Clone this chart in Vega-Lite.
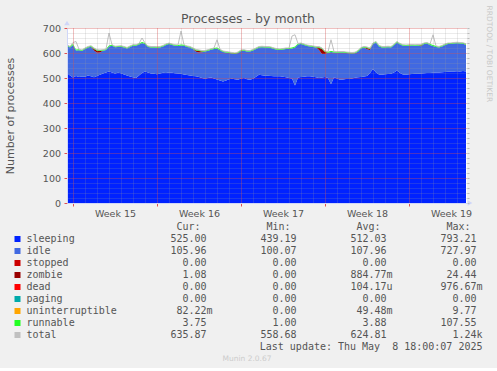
{
  "$schema": "https://vega.github.io/schema/vega-lite/v6.json",
  "background": "#f0f0f0",
  "padding": {"left": 4, "top": 5, "right": 5, "bottom": 5},
  "bounds": "flush",
  "spacing": 18,
  "datasets": {
    "series": [
      {"name": "sleeping", "rank": 1},
      {"name": "idle", "rank": 2},
      {"name": "stopped", "rank": 3},
      {"name": "zombie", "rank": 4},
      {"name": "dead", "rank": 5},
      {"name": "paging", "rank": 6},
      {"name": "uninterruptible", "rank": 7},
      {"name": "runnable", "rank": 8},
      {"name": "total", "rank": 9}
    ],
    "columns": [
      {"stat": "Cur", "header": "Cur:", "col": 1},
      {"stat": "Min", "header": "Min:", "col": 2},
      {"stat": "Avg", "header": "Avg:", "col": 3},
      {"stat": "Max", "header": "Max:", "col": 4}
    ],
    "stats": [
      {"series": "sleeping", "stat": "Cur", "value": "525.00"},
      {"series": "sleeping", "stat": "Min", "value": "439.19"},
      {"series": "sleeping", "stat": "Avg", "value": "512.03"},
      {"series": "sleeping", "stat": "Max", "value": "793.21"},
      {"series": "idle", "stat": "Cur", "value": "105.96"},
      {"series": "idle", "stat": "Min", "value": "100.07"},
      {"series": "idle", "stat": "Avg", "value": "107.96"},
      {"series": "idle", "stat": "Max", "value": "727.97"},
      {"series": "stopped", "stat": "Cur", "value": "0.00"},
      {"series": "stopped", "stat": "Min", "value": "0.00"},
      {"series": "stopped", "stat": "Avg", "value": "0.00"},
      {"series": "stopped", "stat": "Max", "value": "0.00"},
      {"series": "zombie", "stat": "Cur", "value": "1.08"},
      {"series": "zombie", "stat": "Min", "value": "0.00"},
      {"series": "zombie", "stat": "Avg", "value": "884.77", "unit": "m"},
      {"series": "zombie", "stat": "Max", "value": "24.44"},
      {"series": "dead", "stat": "Cur", "value": "0.00"},
      {"series": "dead", "stat": "Min", "value": "0.00"},
      {"series": "dead", "stat": "Avg", "value": "104.17", "unit": "u"},
      {"series": "dead", "stat": "Max", "value": "976.67", "unit": "m"},
      {"series": "paging", "stat": "Cur", "value": "0.00"},
      {"series": "paging", "stat": "Min", "value": "0.00"},
      {"series": "paging", "stat": "Avg", "value": "0.00"},
      {"series": "paging", "stat": "Max", "value": "0.00"},
      {"series": "uninterruptible", "stat": "Cur", "value": "82.22", "unit": "m"},
      {"series": "uninterruptible", "stat": "Min", "value": "0.00"},
      {"series": "uninterruptible", "stat": "Avg", "value": "49.48", "unit": "m"},
      {"series": "uninterruptible", "stat": "Max", "value": "9.77"},
      {"series": "runnable", "stat": "Cur", "value": "3.75"},
      {"series": "runnable", "stat": "Min", "value": "1.00"},
      {"series": "runnable", "stat": "Avg", "value": "3.88"},
      {"series": "runnable", "stat": "Max", "value": "107.55"},
      {"series": "total", "stat": "Cur", "value": "635.87"},
      {"series": "total", "stat": "Min", "value": "558.68"},
      {"series": "total", "stat": "Avg", "value": "624.81"},
      {"series": "total", "stat": "Max", "value": "1.24", "unit": "k"}
    ],
    "processes": [
      {"time": "2025-04-05 12", "sleeping": 520, "idle": 109, "zombie": 0, "runnable": 4, "total": 633},
      {"time": "2025-04-05 18", "sleeping": 510, "idle": 112, "zombie": 0, "runnable": 4, "total": 626},
      {"time": "2025-04-06 00", "sleeping": 502, "idle": 130, "zombie": 0, "runnable": 4, "total": 642},
      {"time": "2025-04-06 06", "sleeping": 508, "idle": 102, "zombie": 0, "runnable": 4, "total": 646},
      {"time": "2025-04-06 12", "sleeping": 504, "idle": 107, "zombie": 0, "runnable": 4, "total": 615},
      {"time": "2025-04-06 18", "sleeping": 506, "idle": 102, "zombie": 0, "runnable": 4, "total": 612},
      {"time": "2025-04-07 00", "sleeping": 505, "idle": 111, "zombie": 0, "runnable": 4, "total": 620},
      {"time": "2025-04-07 06", "sleeping": 510, "idle": 112, "zombie": 0, "runnable": 4, "total": 626},
      {"time": "2025-04-07 12", "sleeping": 507, "idle": 118, "zombie": 0, "runnable": 4, "total": 629},
      {"time": "2025-04-07 18", "sleeping": 503, "idle": 107, "zombie": 6, "runnable": 4, "total": 620},
      {"time": "2025-04-08 00", "sleeping": 508, "idle": 93, "zombie": 8, "runnable": 4, "total": 613},
      {"time": "2025-04-08 06", "sleeping": 513, "idle": 89, "zombie": 6, "runnable": 4, "total": 612},
      {"time": "2025-04-08 12", "sleeping": 518, "idle": 91, "zombie": 0, "runnable": 4, "total": 613},
      {"time": "2025-04-08 18", "sleeping": 522, "idle": 90, "zombie": 0, "runnable": 4, "total": 616},
      {"time": "2025-04-09 00", "sleeping": 526, "idle": 100, "zombie": 0, "runnable": 4, "total": 680},
      {"time": "2025-04-09 06", "sleeping": 522, "idle": 107, "zombie": 0, "runnable": 4, "total": 633},
      {"time": "2025-04-09 12", "sleeping": 518, "idle": 105, "zombie": 0, "runnable": 4, "total": 627},
      {"time": "2025-04-09 18", "sleeping": 521, "idle": 103, "zombie": 0, "runnable": 4, "total": 628},
      {"time": "2025-04-10 00", "sleeping": 519, "idle": 106, "zombie": 0, "runnable": 4, "total": 629},
      {"time": "2025-04-10 06", "sleeping": 514, "idle": 108, "zombie": 0, "runnable": 4, "total": 626},
      {"time": "2025-04-10 12", "sleeping": 510, "idle": 108, "zombie": 0, "runnable": 4, "total": 622},
      {"time": "2025-04-10 18", "sleeping": 506, "idle": 118, "zombie": 0, "runnable": 4, "total": 628},
      {"time": "2025-04-11 00", "sleeping": 503, "idle": 126, "zombie": 0, "runnable": 4, "total": 633},
      {"time": "2025-04-11 06", "sleeping": 500, "idle": 129, "zombie": 0, "runnable": 4, "total": 633},
      {"time": "2025-04-11 12", "sleeping": 510, "idle": 124, "zombie": 0, "runnable": 4, "total": 638},
      {"time": "2025-04-11 18", "sleeping": 520, "idle": 120, "zombie": 0, "runnable": 4, "total": 660},
      {"time": "2025-04-12 00", "sleeping": 526, "idle": 110, "zombie": 0, "runnable": 4, "total": 640},
      {"time": "2025-04-12 06", "sleeping": 522, "idle": 102, "zombie": 0, "runnable": 4, "total": 628},
      {"time": "2025-04-12 12", "sleeping": 518, "idle": 104, "zombie": 0, "runnable": 4, "total": 626},
      {"time": "2025-04-12 18", "sleeping": 517, "idle": 105, "zombie": 0, "runnable": 4, "total": 626},
      {"time": "2025-04-13 00", "sleeping": 515, "idle": 106, "zombie": 0, "runnable": 4, "total": 625},
      {"time": "2025-04-13 06", "sleeping": 518, "idle": 104, "zombie": 0, "runnable": 4, "total": 626},
      {"time": "2025-04-13 12", "sleeping": 521, "idle": 105, "zombie": 0, "runnable": 4, "total": 630},
      {"time": "2025-04-13 18", "sleeping": 520, "idle": 112, "zombie": 0, "runnable": 4, "total": 636},
      {"time": "2025-04-14 00", "sleeping": 522, "idle": 114, "zombie": 0, "runnable": 4, "total": 640},
      {"time": "2025-04-14 06", "sleeping": 521, "idle": 111, "zombie": 0, "runnable": 4, "total": 636},
      {"time": "2025-04-14 12", "sleeping": 519, "idle": 110, "zombie": 0, "runnable": 4, "total": 633},
      {"time": "2025-04-14 18", "sleeping": 518, "idle": 110, "zombie": 0, "runnable": 4, "total": 632},
      {"time": "2025-04-15 00", "sleeping": 517, "idle": 113, "zombie": 0, "runnable": 4, "total": 688},
      {"time": "2025-04-15 06", "sleeping": 514, "idle": 115, "zombie": 0, "runnable": 4, "total": 633},
      {"time": "2025-04-15 12", "sleeping": 512, "idle": 112, "zombie": 0, "runnable": 4, "total": 628},
      {"time": "2025-04-15 18", "sleeping": 510, "idle": 112, "zombie": 0, "runnable": 4, "total": 626},
      {"time": "2025-04-16 00", "sleeping": 508, "idle": 108, "zombie": 0, "runnable": 4, "total": 620},
      {"time": "2025-04-16 06", "sleeping": 507, "idle": 98, "zombie": 5, "runnable": 4, "total": 614},
      {"time": "2025-04-16 12", "sleeping": 504, "idle": 98, "zombie": 6, "runnable": 4, "total": 612},
      {"time": "2025-04-16 18", "sleeping": 500, "idle": 103, "zombie": 3, "runnable": 4, "total": 610},
      {"time": "2025-04-17 00", "sleeping": 497, "idle": 109, "zombie": 0, "runnable": 4, "total": 610},
      {"time": "2025-04-17 06", "sleeping": 500, "idle": 109, "zombie": 0, "runnable": 4, "total": 613},
      {"time": "2025-04-17 12", "sleeping": 502, "idle": 111, "zombie": 0, "runnable": 4, "total": 617},
      {"time": "2025-04-17 18", "sleeping": 498, "idle": 118, "zombie": 0, "runnable": 4, "total": 620},
      {"time": "2025-04-18 00", "sleeping": 494, "idle": 124, "zombie": 0, "runnable": 4, "total": 653},
      {"time": "2025-04-18 06", "sleeping": 490, "idle": 121, "zombie": 0, "runnable": 4, "total": 615},
      {"time": "2025-04-18 12", "sleeping": 486, "idle": 118, "zombie": 0, "runnable": 4, "total": 608},
      {"time": "2025-04-18 18", "sleeping": 490, "idle": 112, "zombie": 0, "runnable": 4, "total": 606},
      {"time": "2025-04-19 00", "sleeping": 495, "idle": 105, "zombie": 0, "runnable": 4, "total": 604},
      {"time": "2025-04-19 06", "sleeping": 497, "idle": 101, "zombie": 0, "runnable": 4, "total": 602},
      {"time": "2025-04-19 12", "sleeping": 495, "idle": 101, "zombie": 0, "runnable": 4, "total": 600},
      {"time": "2025-04-19 18", "sleeping": 493, "idle": 107, "zombie": 0, "runnable": 4, "total": 604},
      {"time": "2025-04-20 00", "sleeping": 498, "idle": 110, "zombie": 0, "runnable": 4, "total": 612},
      {"time": "2025-04-20 06", "sleeping": 500, "idle": 109, "zombie": 0, "runnable": 4, "total": 613},
      {"time": "2025-04-20 12", "sleeping": 495, "idle": 111, "zombie": 0, "runnable": 4, "total": 610},
      {"time": "2025-04-20 18", "sleeping": 493, "idle": 113, "zombie": 0, "runnable": 4, "total": 610},
      {"time": "2025-04-21 00", "sleeping": 497, "idle": 113, "zombie": 0, "runnable": 4, "total": 614},
      {"time": "2025-04-21 06", "sleeping": 505, "idle": 111, "zombie": 0, "runnable": 4, "total": 620},
      {"time": "2025-04-21 12", "sleeping": 513, "idle": 109, "zombie": 0, "runnable": 4, "total": 626},
      {"time": "2025-04-21 18", "sleeping": 511, "idle": 112, "zombie": 0, "runnable": 4, "total": 627},
      {"time": "2025-04-22 00", "sleeping": 509, "idle": 113, "zombie": 0, "runnable": 4, "total": 626},
      {"time": "2025-04-22 06", "sleeping": 509, "idle": 113, "zombie": 0, "runnable": 4, "total": 626},
      {"time": "2025-04-22 12", "sleeping": 508, "idle": 112, "zombie": 0, "runnable": 4, "total": 624},
      {"time": "2025-04-22 18", "sleeping": 507, "idle": 109, "zombie": 0, "runnable": 4, "total": 620},
      {"time": "2025-04-23 00", "sleeping": 507, "idle": 106, "zombie": 0, "runnable": 4, "total": 617},
      {"time": "2025-04-23 06", "sleeping": 507, "idle": 105, "zombie": 0, "runnable": 4, "total": 616},
      {"time": "2025-04-23 12", "sleeping": 505, "idle": 109, "zombie": 0, "runnable": 4, "total": 618},
      {"time": "2025-04-23 18", "sleeping": 503, "idle": 113, "zombie": 0, "runnable": 4, "total": 620},
      {"time": "2025-04-24 00", "sleeping": 500, "idle": 116, "zombie": 0, "runnable": 4, "total": 620},
      {"time": "2025-04-24 06", "sleeping": 498, "idle": 120, "zombie": 0, "runnable": 4, "total": 668},
      {"time": "2025-04-24 12", "sleeping": 470, "idle": 152, "zombie": 0, "runnable": 4, "total": 673},
      {"time": "2025-04-24 18", "sleeping": 502, "idle": 132, "zombie": 0, "runnable": 4, "total": 638},
      {"time": "2025-04-25 00", "sleeping": 504, "idle": 132, "zombie": 0, "runnable": 4, "total": 640},
      {"time": "2025-04-25 06", "sleeping": 505, "idle": 127, "zombie": 0, "runnable": 4, "total": 636},
      {"time": "2025-04-25 12", "sleeping": 507, "idle": 121, "zombie": 0, "runnable": 4, "total": 632},
      {"time": "2025-04-25 18", "sleeping": 507, "idle": 119, "zombie": 0, "runnable": 4, "total": 630},
      {"time": "2025-04-26 00", "sleeping": 505, "idle": 119, "zombie": 0, "runnable": 4, "total": 628},
      {"time": "2025-04-26 06", "sleeping": 503, "idle": 119, "zombie": 0, "runnable": 4, "total": 626},
      {"time": "2025-04-26 12", "sleeping": 500, "idle": 112, "zombie": 10, "runnable": 4, "total": 626},
      {"time": "2025-04-26 18", "sleeping": 502, "idle": 94, "zombie": 20, "runnable": 4, "total": 620},
      {"time": "2025-04-27 00", "sleeping": 504, "idle": 92, "zombie": 8, "runnable": 4, "total": 608},
      {"time": "2025-04-27 06", "sleeping": 500, "idle": 101, "zombie": 0, "runnable": 4, "total": 605},
      {"time": "2025-04-27 12", "sleeping": 475, "idle": 129, "zombie": 0, "runnable": 4, "total": 653},
      {"time": "2025-04-27 18", "sleeping": 503, "idle": 99, "zombie": 0, "runnable": 4, "total": 606},
      {"time": "2025-04-28 00", "sleeping": 498, "idle": 103, "zombie": 0, "runnable": 4, "total": 605},
      {"time": "2025-04-28 06", "sleeping": 493, "idle": 109, "zombie": 0, "runnable": 4, "total": 606},
      {"time": "2025-04-28 12", "sleeping": 494, "idle": 108, "zombie": 0, "runnable": 4, "total": 606},
      {"time": "2025-04-28 18", "sleeping": 496, "idle": 104, "zombie": 0, "runnable": 4, "total": 604},
      {"time": "2025-04-29 00", "sleeping": 496, "idle": 103, "zombie": 0, "runnable": 4, "total": 603},
      {"time": "2025-04-29 06", "sleeping": 498, "idle": 100, "zombie": 0, "runnable": 4, "total": 602},
      {"time": "2025-04-29 12", "sleeping": 501, "idle": 98, "zombie": 0, "runnable": 4, "total": 603},
      {"time": "2025-04-29 18", "sleeping": 503, "idle": 103, "zombie": 0, "runnable": 4, "total": 610},
      {"time": "2025-04-30 00", "sleeping": 504, "idle": 114, "zombie": 0, "runnable": 4, "total": 622},
      {"time": "2025-04-30 06", "sleeping": 506, "idle": 116, "zombie": 0, "runnable": 4, "total": 626},
      {"time": "2025-04-30 12", "sleeping": 508, "idle": 107, "zombie": 5, "runnable": 4, "total": 624},
      {"time": "2025-04-30 18", "sleeping": 520, "idle": 92, "zombie": 4, "runnable": 4, "total": 620},
      {"time": "2025-05-01 00", "sleeping": 536, "idle": 100, "zombie": 0, "runnable": 4, "total": 640},
      {"time": "2025-05-01 06", "sleeping": 522, "idle": 120, "zombie": 0, "runnable": 4, "total": 646},
      {"time": "2025-05-01 12", "sleeping": 514, "idle": 112, "zombie": 0, "runnable": 4, "total": 630},
      {"time": "2025-05-01 18", "sleeping": 513, "idle": 109, "zombie": 0, "runnable": 4, "total": 626},
      {"time": "2025-05-02 00", "sleeping": 515, "idle": 107, "zombie": 0, "runnable": 4, "total": 626},
      {"time": "2025-05-02 06", "sleeping": 516, "idle": 107, "zombie": 0, "runnable": 4, "total": 627},
      {"time": "2025-05-02 12", "sleeping": 517, "idle": 105, "zombie": 0, "runnable": 4, "total": 626},
      {"time": "2025-05-02 18", "sleeping": 522, "idle": 109, "zombie": 0, "runnable": 4, "total": 635},
      {"time": "2025-05-03 00", "sleeping": 530, "idle": 112, "zombie": 0, "runnable": 4, "total": 646},
      {"time": "2025-05-03 06", "sleeping": 520, "idle": 114, "zombie": 0, "runnable": 4, "total": 638},
      {"time": "2025-05-03 12", "sleeping": 514, "idle": 115, "zombie": 0, "runnable": 4, "total": 633},
      {"time": "2025-05-03 18", "sleeping": 513, "idle": 115, "zombie": 0, "runnable": 4, "total": 632},
      {"time": "2025-05-04 00", "sleeping": 515, "idle": 114, "zombie": 0, "runnable": 4, "total": 633},
      {"time": "2025-05-04 06", "sleeping": 516, "idle": 114, "zombie": 0, "runnable": 4, "total": 634},
      {"time": "2025-05-04 12", "sleeping": 517, "idle": 112, "zombie": 0, "runnable": 4, "total": 633},
      {"time": "2025-05-04 18", "sleeping": 517, "idle": 113, "zombie": 0, "runnable": 4, "total": 634},
      {"time": "2025-05-05 00", "sleeping": 518, "idle": 109, "zombie": 3, "runnable": 4, "total": 634},
      {"time": "2025-05-05 06", "sleeping": 519, "idle": 117, "zombie": 0, "runnable": 4, "total": 640},
      {"time": "2025-05-05 12", "sleeping": 520, "idle": 118, "zombie": 0, "runnable": 4, "total": 642},
      {"time": "2025-05-05 18", "sleeping": 520, "idle": 112, "zombie": 0, "runnable": 4, "total": 636},
      {"time": "2025-05-06 00", "sleeping": 521, "idle": 107, "zombie": 0, "runnable": 4, "total": 673},
      {"time": "2025-05-06 06", "sleeping": 522, "idle": 102, "zombie": 0, "runnable": 4, "total": 628},
      {"time": "2025-05-06 12", "sleeping": 522, "idle": 100, "zombie": 0, "runnable": 4, "total": 626},
      {"time": "2025-05-06 18", "sleeping": 523, "idle": 103, "zombie": 0, "runnable": 4, "total": 630},
      {"time": "2025-05-07 00", "sleeping": 524, "idle": 108, "zombie": 0, "runnable": 4, "total": 636},
      {"time": "2025-05-07 06", "sleeping": 525, "idle": 111, "zombie": 0, "runnable": 4, "total": 640},
      {"time": "2025-05-07 12", "sleeping": 526, "idle": 110, "zombie": 0, "runnable": 4, "total": 640},
      {"time": "2025-05-07 18", "sleeping": 526, "idle": 112, "zombie": 0, "runnable": 4, "total": 642},
      {"time": "2025-05-08 00", "sleeping": 527, "idle": 112, "zombie": 0, "runnable": 4, "total": 643},
      {"time": "2025-05-08 06", "sleeping": 526, "idle": 112, "zombie": 0, "runnable": 4, "total": 642},
      {"time": "2025-05-08 12", "sleeping": 528, "idle": 109, "zombie": 0, "runnable": 4, "total": 641},
      {"time": "2025-05-08 18", "sleeping": 526, "idle": 106, "zombie": 1, "runnable": 4, "total": 637}
    ]
  },
  "vconcat": [
    {
      "width": 400,
      "height": 175,
      "view": {"fill": "#ffffff", "stroke": null},
      "title": {
        "text": "Processes - by month",
        "frame": "group",
        "anchor": "middle",
        "dx": -19,
        "offset": -33,
        "baseline": "bottom",
        "font": "DejaVu Sans",
        "fontSize": 12.5,
        "fontWeight": "normal",
        "color": "#555555"
      },
      "data": {"name": "processes", "format": {"parse": {"time": "utc:'%Y-%m-%d %H'"}}},
      "layer": [
        {
          "transform": [
            {"fold": ["sleeping", "idle", "zombie", "runnable"], "as": ["series", "value"]},
            {"lookup": "series", "from": {"data": {"name": "series"}, "key": "name", "fields": ["rank"]}}
          ],
          "mark": {"type": "area", "interpolate": "linear"},
          "encoding": {
            "x": {
              "field": "time",
              "type": "temporal",
              "scale": {
                "type": "utc",
                "domain": [
                  {"year": 2025, "month": "apr", "date": 5, "hours": 12, "utc": true},
                  {"year": 2025, "month": "may", "date": 8, "hours": 20, "utc": true}
                ]
              },
              "axis": {
                "values": [
                  {"year": 2025, "month": "apr", "date": 6, "utc": true},
                  {"year": 2025, "month": "apr", "date": 13, "utc": true},
                  {"year": 2025, "month": "apr", "date": 20, "utc": true},
                  {"year": 2025, "month": "apr", "date": 27, "utc": true},
                  {"year": 2025, "month": "may", "date": 4, "utc": true}
                ],
                "labelExpr": "'Week ' + utcFormat(datum.value + 302400000, '%V')",
                "labelOffset": 42,
                "labelFlush": false,
                "labelOverlap": false,
                "labelFont": "DejaVu Sans",
                "labelFontSize": 9.5,
                "labelColor": "#555555",
                "labelPadding": 2.5,
                "grid": true,
                "gridColor": "#ff2020",
                "gridOpacity": 0.42,
                "gridDash": [1, 1],
                "tickColor": "#e05050",
                "tickSize": 3,
                "domainColor": "#cfd6f8",
                "title": null,
                "zindex": 2
              }
            },
            "y": {
              "field": "value",
              "type": "quantitative",
              "stack": "zero",
              "scale": {"domain": [0, 700], "nice": false},
              "axis": {
                "values": [0, 100, 200, 300, 400, 500, 600, 700],
                "labelFont": "DejaVu Sans",
                "labelFontSize": 9.5,
                "labelColor": "#555555",
                "labelPadding": 3.5,
                "labelFlush": false,
                "grid": true,
                "gridColor": "#ff2020",
                "gridOpacity": 0.42,
                "gridDash": [1, 1],
                "tickColor": "#e05050",
                "tickSize": 3,
                "domainColor": "#cfd6f8",
                "title": "Number of processes",
                "titleFont": "DejaVu Sans",
                "titleFontSize": 11,
                "titleFontWeight": "normal",
                "titleColor": "#555555",
                "titlePadding": 27,
                "zindex": 2
              }
            },
            "color": {
              "field": "series",
              "type": "nominal",
              "scale": {
                "domain": ["sleeping", "idle", "stopped", "zombie", "dead", "paging", "uninterruptible", "runnable", "total"],
                "range": ["#0022ff", "#4169e1", "#cc0000", "#990000", "#ff0000", "#00aaaa", "#ffa500", "#22ff22", "#c0c0c0"]
              },
              "legend": null
            },
            "order": {"field": "rank", "type": "quantitative"}
          }
        },
        {
          "mark": {"type": "line", "color": "#c0c0c0", "strokeWidth": 1},
          "encoding": {
            "x": {
              "field": "time",
              "type": "temporal",
              "axis": {
                "orient": "top",
                "tickCount": {"interval": "day", "step": 1},
                "grid": true,
                "gridColor": "#9a9a9a",
                "gridOpacity": 0.4,
                "gridDash": [1, 1],
                "labels": false,
                "ticks": false,
                "domain": false,
                "title": null,
                "zindex": 1
              }
            },
            "y": {
              "field": "total",
              "type": "quantitative",
              "axis": {
                "orient": "right",
                "values": [0, 20, 40, 60, 80, 100, 120, 140, 160, 180, 200, 220, 240, 260, 280, 300, 320, 340, 360, 380, 400, 420, 440, 460, 480, 500, 520, 540, 560, 580, 600, 620, 640, 660, 680, 700],
                "grid": true,
                "gridColor": "#9a9a9a",
                "gridOpacity": 0.4,
                "gridDash": [1, 1],
                "labels": false,
                "ticks": true,
                "tickSize": 2,
                "tickColor": "#bbbbbb",
                "domain": false,
                "title": "RRDTOOL / TOBI OETIKER",
                "titleFont": "DejaVu Sans",
                "titleFontSize": 7.5,
                "titleFontWeight": "normal",
                "titleColor": "#c8c8c8",
                "titleAngle": 90,
                "titleAlign": "left",
                "titleBaseline": "middle",
                "titleX": 21,
                "titleY": -23,
                "zindex": 1
              }
            }
          }
        },
        {
          "data": {"values": [{"arrow": "x"}]},
          "mark": {"type": "point", "shape": "triangle-right", "filled": true, "size": 30, "opacity": 1, "color": "#cfd6f8", "xOffset": 3},
          "encoding": {
            "x": {"datum": {"year": 2025, "month": "may", "date": 8, "hours": 20, "utc": true}, "type": "temporal", "axis": null},
            "y": {"datum": 0, "type": "quantitative", "axis": null}
          }
        },
        {
          "data": {"values": [{"arrow": "y"}]},
          "mark": {"type": "point", "shape": "triangle-up", "filled": true, "size": 30, "opacity": 1, "color": "#cfd6f8", "yOffset": -5},
          "encoding": {
            "x": {"datum": {"year": 2025, "month": "apr", "date": 5, "hours": 12, "utc": true}, "type": "temporal", "axis": null},
            "y": {"datum": 700, "type": "quantitative", "axis": null}
          }
        }
      ],
      "resolve": {"axis": {"x": "independent", "y": "independent"}}
    },
    {
      "width": 360,
      "height": 132,
      "title": {
        "text": "Munin 2.0.67",
        "orient": "bottom",
        "frame": "group",
        "anchor": "middle",
        "offset": 2,
        "baseline": "top",
        "font": "DejaVu Sans",
        "fontSize": 7.5,
        "fontWeight": "normal",
        "color": "#cccccc"
      },
      "layer": [
        {
          "data": {"name": "series"},
          "mark": {"type": "square", "size": 36, "opacity": 1, "filled": true, "xOffset": -9},
          "encoding": {
            "x": {"datum": -1, "type": "quantitative", "scale": {"domain": [-0.55, 3.45], "nice": false, "zero": false}, "axis": null},
            "y": {"field": "rank", "type": "quantitative", "scale": {"domain": [-0.5, 10.5], "reverse": true, "nice": false, "zero": false}, "axis": null},
            "color": {
              "field": "name",
              "type": "nominal",
              "scale": {
                "domain": ["sleeping", "idle", "stopped", "zombie", "dead", "paging", "uninterruptible", "runnable", "total"],
                "range": ["#0022ff", "#4169e1", "#cc0000", "#990000", "#ff0000", "#00aaaa", "#ffa500", "#22ff22", "#c0c0c0"]
              },
              "legend": null
            }
          }
        },
        {
          "data": {"name": "series"},
          "mark": {"type": "text", "align": "left"},
          "encoding": {
            "x": {"datum": -1, "type": "quantitative", "axis": null},
            "y": {"field": "rank", "type": "quantitative", "axis": null},
            "text": {"field": "name"}
          }
        },
        {
          "data": {"name": "columns"},
          "mark": {"type": "text", "align": "right", "dx": -6},
          "encoding": {
            "x": {"field": "col", "type": "quantitative", "axis": null},
            "y": {"datum": 0, "type": "quantitative", "axis": null},
            "text": {"field": "header"}
          }
        },
        {
          "data": {"name": "stats"},
          "transform": [
            {"lookup": "stat", "from": {"data": {"name": "columns"}, "key": "stat", "fields": ["col"]}},
            {"lookup": "series", "from": {"data": {"name": "series"}, "key": "name", "fields": ["rank"]}}
          ],
          "mark": {"type": "text", "align": "right"},
          "encoding": {
            "x": {"field": "col", "type": "quantitative", "axis": null},
            "y": {"field": "rank", "type": "quantitative", "axis": null},
            "text": {"field": "value"}
          }
        },
        {
          "data": {"name": "stats"},
          "transform": [
            {"filter": "isValid(datum.unit)"},
            {"lookup": "stat", "from": {"data": {"name": "columns"}, "key": "stat", "fields": ["col"]}},
            {"lookup": "series", "from": {"data": {"name": "series"}, "key": "name", "fields": ["rank"]}}
          ],
          "mark": {"type": "text", "align": "left"},
          "encoding": {
            "x": {"field": "col", "type": "quantitative", "axis": null},
            "y": {"field": "rank", "type": "quantitative", "axis": null},
            "text": {"field": "unit"}
          }
        },
        {
          "data": {"values": [{"note": "Last update: Thu May\u00a0\u00a08 18:00:07 2025"}]},
          "mark": {"type": "text", "align": "right", "dx": 6},
          "encoding": {
            "x": {"datum": 4, "type": "quantitative", "axis": null},
            "y": {"datum": 10, "type": "quantitative", "axis": null},
            "text": {"field": "note"}
          }
        }
      ]
    }
  ],
  "config": {
    "view": {"stroke": null},
    "font": "DejaVu Sans",
    "text": {"font": "DejaVu Sans Mono", "fontSize": 10, "color": "#555555", "baseline": "middle"}
  }
}
